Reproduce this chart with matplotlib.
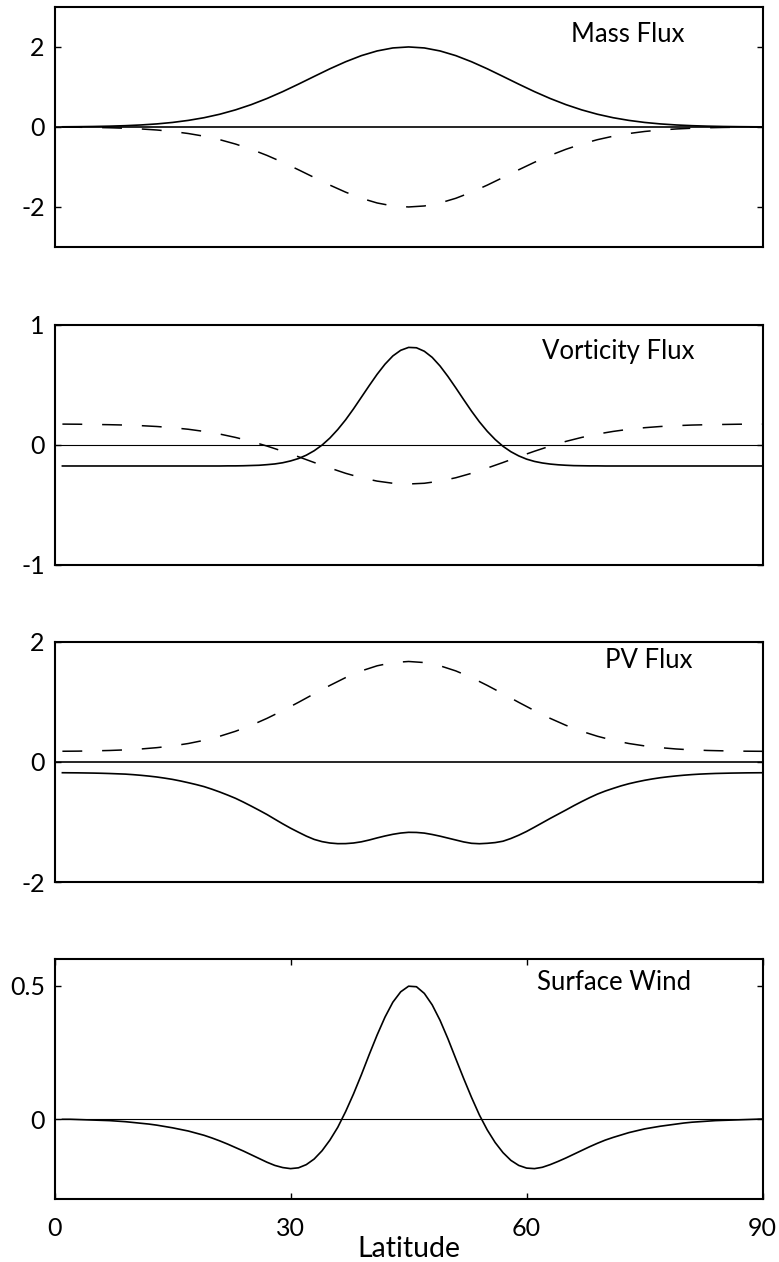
import numpy as np
import matplotlib.pyplot as plt

plt.rcParams['font.family'] = ['Lato', 'DejaVu Sans']

# Latitude grids (degrees): coarse for broad curves, 1-degree for sharp ones
lat = np.r_[np.arange(1, 90, 2), 90]
lat_fine = np.arange(1, 91)

mass_solid = [0.004, 0.007, 0.012, 0.020, 0.032, 0.050, 0.076, 0.113, 0.164, 0.231,
              0.318, 0.427, 0.558, 0.711, 0.883, 1.070, 1.263, 1.454, 1.630, 1.783,
              1.900, 1.975, 2.000, 1.975, 1.900, 1.783, 1.630, 1.454, 1.263, 1.070,
              0.883, 0.711, 0.558, 0.427, 0.318, 0.231, 0.164, 0.113, 0.076, 0.050,
              0.032, 0.020, 0.012, 0.007, 0.004, 0.003]
mass_dashed = [-0.004, -0.007, -0.012, -0.020, -0.032, -0.050, -0.076, -0.113, -0.164, -0.231,
               -0.318, -0.427, -0.558, -0.711, -0.883, -1.070, -1.263, -1.454, -1.630, -1.783,
               -1.900, -1.975, -2.000, -1.975, -1.900, -1.783, -1.630, -1.454, -1.263, -1.070,
               -0.883, -0.711, -0.558, -0.427, -0.318, -0.231, -0.164, -0.113, -0.076, -0.050,
               -0.032, -0.020, -0.012, -0.007, -0.004, -0.003]

# 1..90 deg
vort_solid = [-0.175] * 21 + [
    -0.174, -0.174, -0.173, -0.171, -0.169, -0.164, -0.158, -0.148, -0.133, -0.113,
    -0.085, -0.048, -0.001, 0.058, 0.129, 0.210, 0.301, 0.398, 0.495, 0.589,
    0.673, 0.742, 0.789, 0.813, 0.810, 0.781, 0.730, 0.658, 0.571, 0.476,
    0.378, 0.282, 0.193, 0.114, 0.046, -0.011, -0.056, -0.091, -0.118, -0.137,
    -0.150, -0.159, -0.165, -0.169, -0.172, -0.173, -0.174, -0.174] + [-0.175] * 21
vort_dashed = [0.174, 0.173, 0.171, 0.169, 0.166, 0.161, 0.154, 0.144, 0.131, 0.113,
               0.091, 0.063, 0.030, -0.009, -0.052, -0.098, -0.146, -0.192, -0.236, -0.273,
               -0.301, -0.319, -0.325, -0.319, -0.301, -0.273, -0.236, -0.192, -0.146, -0.098,
               -0.052, -0.009, 0.030, 0.063, 0.091, 0.113, 0.131, 0.144, 0.154, 0.161,
               0.166, 0.169, 0.171, 0.173, 0.174, 0.174]

# 1..90 deg
pv_solid = [-0.179, -0.180, -0.181, -0.183, -0.185, -0.188, -0.192, -0.197, -0.202, -0.211,
            -0.222, -0.235, -0.250, -0.269, -0.290, -0.316, -0.345, -0.376, -0.410, -0.453,
            -0.500, -0.551, -0.605, -0.668, -0.735, -0.804, -0.875, -0.953, -1.030, -1.103,
            -1.170, -1.235, -1.290, -1.327, -1.350, -1.361, -1.360, -1.350, -1.330, -1.300,
            -1.265, -1.233, -1.205, -1.184, -1.172, -1.174, -1.185, -1.208, -1.236, -1.268,
            -1.300, -1.332, -1.355, -1.362, -1.355, -1.343, -1.320, -1.275, -1.220, -1.157,
            -1.086, -1.013, -0.940, -0.870, -0.800, -0.728, -0.660, -0.595, -0.535, -0.484,
            -0.440, -0.398, -0.362, -0.332, -0.305, -0.282, -0.262, -0.246, -0.232, -0.220,
            -0.210, -0.202, -0.196, -0.191, -0.188, -0.185, -0.183, -0.181, -0.180, -0.179]
pv_dashed = [0.179, 0.181, 0.186, 0.192, 0.202, 0.217, 0.239, 0.268, 0.308, 0.361,
             0.429, 0.512, 0.611, 0.727, 0.856, 0.994, 1.137, 1.276, 1.407, 1.518,
             1.603, 1.657, 1.675, 1.657, 1.603, 1.518, 1.407, 1.276, 1.137, 0.994,
             0.856, 0.727, 0.611, 0.512, 0.429, 0.361, 0.308, 0.268, 0.239, 0.217,
             0.202, 0.192, 0.186, 0.181, 0.179, 0.178]

# 1..90 deg
wind = [-0.001, -0.001, -0.002, -0.003, -0.004, -0.005, -0.006, -0.008, -0.010, -0.013,
        -0.016, -0.019, -0.023, -0.028, -0.033, -0.039, -0.045, -0.053, -0.061, -0.071,
        -0.082, -0.094, -0.107, -0.120, -0.134, -0.148, -0.162, -0.174, -0.182, -0.186,
        -0.183, -0.171, -0.150, -0.119, -0.079, -0.031, 0.028, 0.094, 0.166, 0.242,
        0.315, 0.382, 0.438, 0.477, 0.498, 0.496, 0.471, 0.428, 0.370, 0.301,
        0.226, 0.152, 0.081, 0.015, -0.041, -0.088, -0.126, -0.155, -0.174, -0.184,
        -0.186, -0.181, -0.171, -0.159, -0.146, -0.132, -0.118, -0.104, -0.091, -0.079,
        -0.069, -0.060, -0.051, -0.044, -0.037, -0.032, -0.027, -0.023, -0.019, -0.015,
        -0.012, -0.010, -0.008, -0.006, -0.005, -0.004, -0.003, -0.002, -0.001, 0.000]

panels = [
    dict(title="Mass Flux", x=lat, solid=mass_solid, dashed=mass_dashed,
         ylim=(-3, 3), yticks=[-2, 0, 2], ylabels=["-2", "0", "2"], tx=0.730, ty=0.854, zlw=1.2),
    dict(title="Vorticity Flux", x=lat_fine, solid=vort_solid, dashed=vort_dashed,
         ylim=(-1, 1), yticks=[-1, 0, 1], ylabels=["-1", "0", "1"], tx=0.689, ty=0.859, zlw=0.8),
    dict(title="PV Flux", x=lat_fine, solid=pv_solid, dashed=pv_dashed,
         ylim=(-2, 2), yticks=[-2, 0, 2], ylabels=["-2", "0", "2"], tx=0.777, ty=0.892, zlw=1.2),
    dict(title="Surface Wind", x=lat_fine, solid=wind, dashed=None,
         ylim=(-0.3, 0.6), yticks=[0, 0.5], ylabels=["0", "0.5"], tx=0.681, ty=0.871, zlw=0.8),
]

fig = plt.figure(figsize=(7.79, 12.62), dpi=100)
left, width, height = 0.070, 0.909, 0.1902
bottoms = [0.8043, 0.5523, 0.3011, 0.0499]

for i, (p, b) in enumerate(zip(panels, bottoms)):
    ax = fig.add_axes([left, b, width, height])
    ax.axhline(0, color="black", lw=p["zlw"])
    if p["dashed"] is not None:
        ax.plot(lat, p["dashed"], color="black", lw=1.1, dashes=(13, 13))
    ax.plot(p["x"], p["solid"], color="black", lw=1.2)
    ax.set_xlim(0, 90)
    ax.set_ylim(*p["ylim"])
    ax.set_yticks(p["yticks"])
    ax.set_yticklabels(p["ylabels"])
    ax.tick_params(axis="y", direction="in", length=4.5, width=1.0, right=True,
                   labelsize=18, pad=7)
    if i == 3:
        ax.set_xticks([0, 30, 60, 90])
        ax.tick_params(axis="x", direction="in", length=4.5, width=1.0, top=True,
                       labelsize=18, pad=13)
        ax.set_xlabel("Latitude", fontsize=20.5, labelpad=-3)
    else:
        ax.set_xticks([])
    for s in ax.spines.values():
        s.set_linewidth(1.5)
    ax.text(p["tx"], p["ty"], p["title"], transform=ax.transAxes,
            fontsize=18.5, ha="left", va="baseline")

fig.savefig("out.png", dpi=100)
